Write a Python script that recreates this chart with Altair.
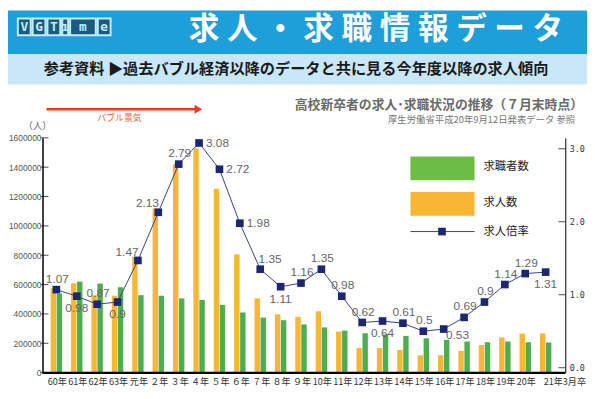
import altair as alt
import pandas as pd

# ---------------- data ----------------
cats = ["60年", "61年", "62年", "63年", "元年", "２年", "３年", "４年", "５年", "６年",
        "７年", "８年", "９年", "10年", "11年", "12年", "13年", "14年", "15年", "16年",
        "17年", "18年", "19年", "20年", "21年3月卒"]
offers = [575000, 609000, 527000, 524000, 790000, 1118000, 1420000, 1527000, 1253000, 806000,
          506000, 397000, 380000, 418000, 280000, 167000, 167000, 154000, 118000, 118000,
          148000, 188000, 240000, 266000, 267000]
seekers = [540000, 620000, 607000, 582000, 528000, 524000, 506000, 495000, 461000, 410000,
           375000, 357000, 328000, 308000, 286000, 268000, 261000, 250000, 234000, 223000,
           212000, 207000, 212000, 207000, 205000]
ratio = [1.07, 0.98, 0.87, 0.9, 1.47, 2.13, 2.79, 3.08, 2.72, 1.98,
         1.35, 1.11, 1.16, 1.35, 0.98, 0.62, 0.64, 0.61, 0.5, 0.53,
         0.69, 0.9, 1.14, 1.29, 1.31]
label_pos = ["above", "below", "above", "below", "aboveleft", "aboveleft", "above", "right", "right", "right",
             "aboveright", "below", "above", "above", "above", "above", "below", "above", "above", "belowright",
             "above", "above", "above", "above", "below"]
left_ticks = [0, 200000, 400000, 600000, 800000, 1000000, 1200000, 1400000, 1600000]
right_ticks = [0, 1, 2, 3]
baseline_value = [0]
series = ["求人数", "求職者数"]
logo_letters = ["V", "G", "T", "ı", "m", "e"]

ORANGE = "#F8B733"
GREEN = "#4DAE4F"
NAVY = "#1B2677"
LINE = "#34428F"
JP = "Noto Sans CJK JP"

W, H = 530, 238
OX, OY = 43, 137  # page pixel of plot origin


def px(x):
    return x - OX


def py(y):
    return y - OY


df = pd.DataFrame({
    "idx": list(range(len(cats))),
    "cat": cats,
    "求人数": offers,
    "求職者数": seekers,
    "ratio": ratio,
    "label": [str(r) for r in ratio],
    "pos": label_pos,
    "last": [c == cats[-1] for c in cats],
})

xscale = alt.Scale(domain=cats, range=[3.7, 520.4], paddingInner=0.44, paddingOuter=0.22)


def X():
    return alt.X("cat:N", scale=xscale, axis=None)


def lscale():
    return alt.Scale(domain=[0, 1600000], nice=False)


def rscale():
    return alt.Scale(domain=[-0.067, 3.15], nice=False, zero=False)


bars = alt.Chart(df).transform_fold(series, as_=["series", "value"]).mark_bar().encode(
    x=X(),
    xOffset=alt.XOffset("series:N", scale=alt.Scale(domain=series, paddingInner=0.1)),
    y=alt.Y("value:Q", scale=lscale(), axis=alt.Axis(
        title=None, values=left_ticks, format="d", labelFontSize=8.5, labelColor="#555",
        labelFont="Liberation Sans", domainColor="black", domainWidth=1.5, ticks=False,
        labelPadding=1.5, grid=False, orient="left", zindex=2)),
    color=alt.Color("series:N", scale=alt.Scale(domain=series, range=[ORANGE, GREEN]), legend=None),
)

lticks = alt.Chart(pd.DataFrame({"v": left_ticks})).mark_tick(
    color="black", thickness=1, size=8, orient="horizontal").encode(
    y=alt.Y("v:Q", scale=lscale(), axis=None), x=alt.value(2))

# bottom axis line, placed through the left scale at value 0
baseline = alt.Chart(pd.DataFrame({"v": baseline_value})).mark_tick(
    color="black", thickness=1.5, size=W, orient="horizontal", opacity=1).encode(
    y=alt.Y("v:Q", scale=lscale(), axis=None), x=alt.value(W / 2))

base = alt.Chart(df)
line = base.mark_line(color=LINE, strokeWidth=1).encode(
    x=X(),
    y=alt.Y("ratio:Q", scale=rscale(), axis=alt.Axis(
        orient="right", title=None, values=right_ticks, format=".1f", labelFontSize=8.5,
        labelColor="#333", labelFont="DejaVu Sans Mono", domainColor="black", domainWidth=1,
        ticks=False, labelPadding=4, grid=False, zindex=2)),
    order=alt.Order("idx:Q"),
)
pts = base.mark_point(shape="square", filled=True, size=60, color=NAVY, opacity=1).encode(
    x=X(),
    y=alt.Y("ratio:Q", scale=rscale(), axis=None),
)

offsets = {
    "above": dict(align="center", dx=1, dy=-11),
    "below": dict(align="center", dx=0, dy=12),
    "right": dict(align="left", dx=7, dy=0),
    "aboveleft": dict(align="center", dx=-11, dy=-9),
    "aboveright": dict(align="center", dx=10, dy=-10),
    "belowright": dict(align="center", dx=14, dy=6),
}
label_layers = []
for k, o in offsets.items():
    label_layers.append(
        base.transform_filter(alt.datum.pos == k).mark_text(
            fontSize=12, color="#666", font="Liberation Sans", baseline="middle", **o).encode(
            x=X(),
            y=alt.Y("ratio:Q", scale=rscale(), axis=None),
            text="label:N")
    )

rticks = alt.Chart(pd.DataFrame({"v": right_ticks})).mark_tick(
    color="black", thickness=1, size=7, orient="horizontal").encode(
    y=alt.Y("v:Q", scale=rscale(), axis=None), x=alt.value(W - 3.5))

# category labels under the x axis
xlab = base.transform_filter(alt.datum.last == False).mark_text(
    fontSize=9.2, color="#333", font=JP, baseline="middle", align="center", dx=1).encode(
    x=X(), y=alt.value(H + 10), text="cat:N")
xlab_last = base.transform_filter(alt.datum.last == True).mark_text(
    fontSize=9.2, color="#333", font=JP, baseline="middle", align="left", dx=-2).encode(
    x=X(), y=alt.value(H + 10), text="cat:N")

one = pd.DataFrame({"a": [0]})

# ---------------- decorations ----------------


def rect(x1, x2, y1, y2, **kw):
    return alt.Chart(one).mark_rect(**kw).encode(
        x=alt.value(px(x1)), x2=alt.value(px(x2)), y=alt.value(py(y1)), y2=alt.value(py(y2)))


def text(t, x, y, **kw):
    return alt.Chart(one).mark_text(baseline="middle", **kw).encode(
        x=alt.value(px(x)), y=alt.value(py(y)), text=alt.value(t))


SP = "\u2005"
title_txt = SP.join(list("求人・求職情報データ"))

deco = [
    rect(8, 595, 8, 52, color="#1E9FD9"),
    rect(8, 595, 52, 83, color="#C8E7F8"),
    text(title_txt, 381, 28, fontSize=31, fontWeight="bold", color="white", font=JP),
    text("参考資料 ▶過去バブル経済以降のデータと共に見る今年度以降の求人傾向", 300, 67,
         fontSize=15.4, fontWeight="bold", color="#1a1a1a", font=JP),
    text("高校新卒者の求人･求職状況の推移（７月末時点）", 591, 104, align="right",
         fontSize=13, fontWeight="bold", color="#6a6a6a", font=JP),
    text("厚生労働省平成20年9月12日発表データ 参照", 583, 119, align="right",
         fontSize=9.5, color="#777", font=JP),
    alt.Chart(one).mark_rule(color="#E63B1F", strokeWidth=2.5).encode(
        x=alt.value(px(47)), x2=alt.value(px(198)), y=alt.value(py(108))),
    alt.Chart(one).mark_point(shape="triangle-right", filled=True, size=80, color="#E63B1F", opacity=1).encode(
        x=alt.value(px(201)), y=alt.value(py(108))),
    text("バブル景気", 121, 117, fontSize=9, color="#E8603C", font=JP),
    text("（人）", 38, 125, fontSize=9.5, color="#666", font=JP),
    rect(416, 481, 156, 180, color="#6DBE45"),
    rect(416, 481, 192, 216, color=ORANGE),
    alt.Chart(one).mark_rule(color=LINE, strokeWidth=1).encode(
        x=alt.value(px(416)), x2=alt.value(px(481)), y=alt.value(py(232))),
    alt.Chart(one).mark_point(shape="square", filled=True, size=60, color=NAVY, opacity=1).encode(
        x=alt.value(px(448)), y=alt.value(py(232))),
    text("求職者数", 490, 167, align="left", fontSize=11.5, color="#222", font=JP),
    text("求人数", 490, 203, align="left", fontSize=11.5, color="#222", font=JP),
    text("求人倍率", 490, 232, align="left", fontSize=11.5, color="#222", font=JP),
]

# logo boxes
box_x = [(18, 31), (33, 46), (48, 61), (63, 69), (71, 97), (99, 112)]
for (a, b), letter in zip(box_x, logo_letters):
    deco.append(rect(a, b, 16, 33, color="#1B5A7E", stroke="#C4ECFB", strokeWidth=2))
    deco.append(text(letter, (a + b) / 2, 24.5, fontSize=13, fontWeight="bold",
                     color="#C4ECFB", font="DejaVu Sans Mono"))

# extra bottom line drawn last, in page coordinates just under the bars
bottom_line = rect(43, 573, 374.5, 376.5, color="black")

chart = alt.layer(
    bars, lticks, line, pts, *label_layers, rticks, xlab, xlab_last, *deco, baseline, bottom_line
).resolve_scale(y="independent").properties(
    width=W, height=H,
    padding={"left": 35, "top": 129, "right": 22, "bottom": 16},
    autosize=alt.AutoSizeParams(type="none"),
).configure_view(stroke=None)

chart.save("out.html", embed_options={"renderer": "svg", "actions": False})
